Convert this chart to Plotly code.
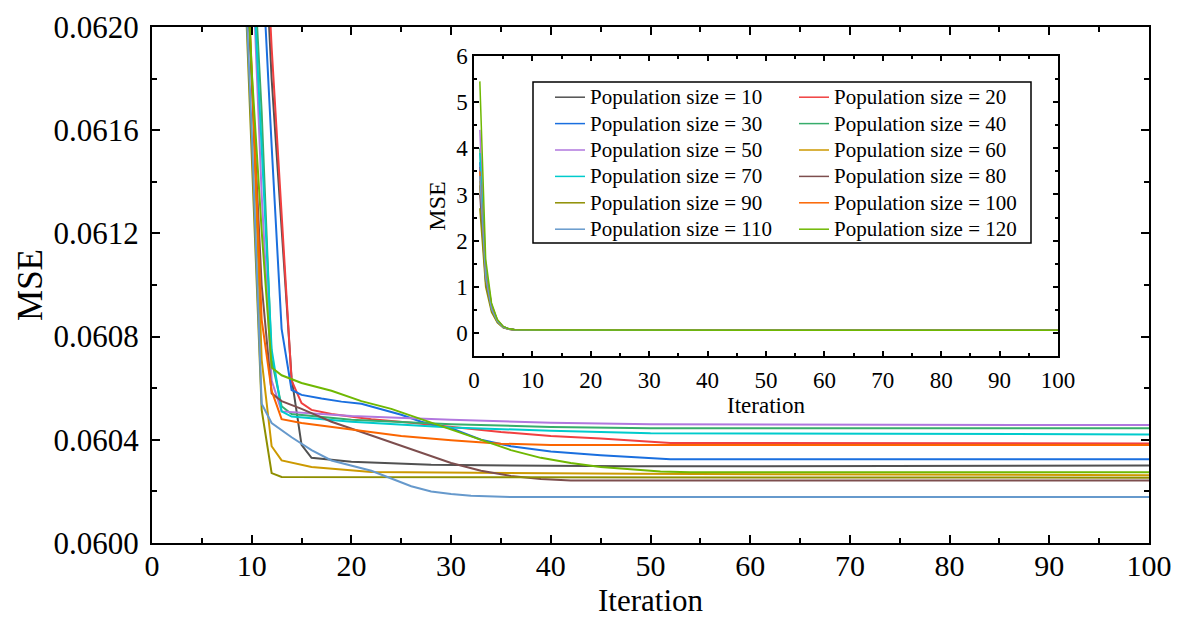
import plotly.graph_objects as go

FONT = "Liberation Serif, Times New Roman, serif"

# ---------------- data (iteration, MSE) ----------------
iters_10 = [1, 2, 3, 4, 5, 6, 7, 8, 9, 10, 11, 12, 13, 14, 15, 16, 20, 28, 48, 100]
mse_10 = [3.2, 1.2, 0.55, 0.26, 0.13, 0.085, 0.069, 0.0655, 0.0640, 0.0632, 0.0626, 0.0618,
          0.06122, 0.06064, 0.06038, 0.06033, 0.060315, 0.060303, 0.060297, 0.060300]

iters_20 = [1, 2, 3, 4, 5, 6, 7, 8, 9, 10, 11, 12, 13, 14, 15, 16, 18, 22, 26, 30, 35, 40, 45, 52, 100]
mse_20 = [3.6, 1.35, 0.6, 0.28, 0.14, 0.088, 0.070, 0.066, 0.0643, 0.0634, 0.0627, 0.06192,
          0.06125, 0.06063, 0.060542, 0.060516, 0.0605, 0.06048, 0.060466, 0.06045, 0.06043,
          0.060415, 0.060405, 0.060388, 0.060386]

iters_30 = [1, 2, 3, 4, 5, 6, 7, 8, 9, 10, 11, 12, 13, 14, 15, 17, 19, 21, 23, 25, 27, 30, 33, 36,
            40, 45, 52, 100]
mse_30 = [3.7, 1.3, 0.58, 0.27, 0.135, 0.086, 0.069, 0.0652, 0.0637, 0.0630, 0.0623, 0.06154,
          0.06083, 0.060593, 0.060574, 0.06056, 0.060548, 0.06054, 0.06052, 0.060497, 0.06047,
          0.060445, 0.06040, 0.060375, 0.060355, 0.06034, 0.060325, 0.060325]

iters_40 = [1, 2, 3, 4, 5, 6, 7, 8, 9, 10, 11, 12, 13, 14, 20, 30, 40, 50, 100]
mse_40 = [4.0, 1.4, 0.6, 0.27, 0.13, 0.084, 0.068, 0.0648, 0.0632, 0.0624, 0.06167, 0.06071,
          0.06053, 0.0605, 0.060478, 0.06046, 0.06045, 0.060445, 0.060445]

iters_50 = [1, 2, 3, 4, 5, 6, 7, 8, 9, 10, 11, 12, 13, 20, 30, 40, 50, 100]
mse_50 = [4.4, 1.45, 0.62, 0.28, 0.135, 0.085, 0.068, 0.0647, 0.0631, 0.06232, 0.06135, 0.06063,
          0.06051, 0.060492, 0.060478, 0.060466, 0.06046, 0.060457]

iters_60 = [1, 2, 3, 4, 5, 6, 7, 8, 9, 10, 11, 12, 13, 16, 22, 48, 100]
mse_60 = [3.3, 1.15, 0.5, 0.24, 0.12, 0.08, 0.067, 0.064, 0.0627, 0.06181, 0.06071, 0.060375,
          0.06032, 0.060295, 0.060275, 0.060268, 0.060263]

iters_70 = [1, 2, 3, 4, 5, 6, 7, 8, 9, 10, 11, 12, 13, 14, 20, 30, 40, 50, 100]
mse_70 = [3.9, 1.35, 0.58, 0.27, 0.13, 0.084, 0.068, 0.0647, 0.0631, 0.0623, 0.0615, 0.06075,
          0.06051, 0.06049, 0.06047, 0.060448, 0.060435, 0.060425, 0.060421]

iters_80 = [1, 2, 3, 4, 5, 6, 7, 8, 9, 10, 11, 12, 13, 15, 18, 21, 24, 27, 30, 33, 36, 39, 42, 100]
mse_80 = [3.0, 1.1, 0.5, 0.24, 0.12, 0.08, 0.067, 0.064, 0.0626, 0.0618, 0.0610, 0.06058,
          0.06055, 0.06052, 0.06047, 0.06043, 0.06039, 0.06035, 0.06031, 0.06028, 0.06026,
          0.060248, 0.060242, 0.060242]

iters_90 = [1, 2, 3, 4, 5, 6, 7, 8, 9, 10, 11, 12, 13, 100]
mse_90 = [2.7, 1.0, 0.45, 0.22, 0.11, 0.078, 0.066, 0.0638, 0.0625, 0.0615, 0.060516, 0.060271,
          0.060256, 0.060253]

iters_100 = [1, 2, 3, 4, 5, 6, 7, 8, 9, 10, 11, 12, 13, 15, 20, 25, 30, 35, 40, 100]
mse_100 = [3.5, 1.25, 0.55, 0.26, 0.125, 0.082, 0.067, 0.0642, 0.0628, 0.06185, 0.060865, 0.06059,
           0.06048, 0.060465, 0.06044, 0.060415, 0.060398, 0.060385, 0.06038, 0.06038]

iters_110 = [1, 2, 3, 4, 5, 6, 7, 8, 9, 10, 11, 12, 14, 16, 18, 20, 22, 24, 26, 28, 30, 32, 34, 36, 100]
mse_110 = [3.4, 1.2, 0.52, 0.25, 0.12, 0.08, 0.066, 0.0637, 0.0625, 0.0616, 0.06054, 0.060465,
           0.06041, 0.06036, 0.06032, 0.0603, 0.06028, 0.06025, 0.06022, 0.0602, 0.06019,
           0.060183, 0.06018, 0.060178, 0.060178]

iters_120 = [1, 2, 3, 4, 5, 6, 7, 8, 9, 10, 11, 12, 13, 15, 18, 21, 24, 27, 30, 33, 36, 39, 42, 45,
             48, 51, 54, 100]
mse_120 = [5.45, 1.6, 0.65, 0.29, 0.14, 0.088, 0.069, 0.0645, 0.0627, 0.06183, 0.06121, 0.06068,
           0.06065, 0.06062, 0.06059, 0.06055, 0.06052, 0.06048, 0.06044, 0.0604, 0.06036,
           0.06033, 0.06031, 0.060295, 0.060285, 0.060277, 0.060274, 0.060274]

sizes = [10, 20, 30, 40, 50, 60, 70, 80, 90, 100, 110, 120]
series_iters = [iters_10, iters_20, iters_30, iters_40, iters_50, iters_60,
                iters_70, iters_80, iters_90, iters_100, iters_110, iters_120]
series_mse = [mse_10, mse_20, mse_30, mse_40, mse_50, mse_60,
              mse_70, mse_80, mse_90, mse_100, mse_110, mse_120]
colors = ["#515151", "#F14040", "#1A6FDF", "#37AD6B", "#B177DE", "#CC9900",
          "#00CBCC", "#7D4E4E", "#8E8E00", "#FB6501", "#6699CC", "#6FB802"]

main_xticks = [0, 10, 20, 30, 40, 50, 60, 70, 80, 90, 100]
main_yticks = [0.0600, 0.0604, 0.0608, 0.0612, 0.0616, 0.0620]
inset_yticks = [0, 1, 2, 3, 4, 5, 6]

fig = go.Figure()

for n, xs, ys, c in zip(sizes, series_iters, series_mse, colors):
    fig.add_trace(go.Scatter(x=xs, y=ys, mode="lines", line=dict(color=c, width=2),
                             xaxis="x", yaxis="y", showlegend=False, hoverinfo="skip"))

for i, (n, xs, ys, c) in enumerate(zip(sizes, series_iters, series_mse, colors)):
    fig.add_trace(go.Scatter(x=xs, y=ys, mode="lines", line=dict(color=c, width=1.5),
                             xaxis="x2", yaxis="y2",
                             name=f'<span style="font-size:21px">Population size = {n}</span>',
                             showlegend=True, legend="legend" if i % 2 == 0 else "legend2"))

axis_common = dict(showline=True, linecolor="black", mirror="ticks", ticks="inside",
                   tickcolor="black", showgrid=False, zeroline=False, automargin=False)

L, R, T, B = 152, 30, 27, 77
W, H = 1179, 620
pw, ph = W - L - R, H - T - B


def px_x(p):
    return (p - L) / pw


def px_y(p):
    return (H - B - p) / ph


legend_common = dict(xanchor="left", yanchor="top", bgcolor="rgba(0,0,0,0)", borderwidth=0,
                     font=dict(family=FONT, size=18, color="black"), tracegroupgap=0,
                     orientation="v")

fig.update_layout(
    width=W, height=H,
    margin=dict(l=L, r=R, t=T, b=B, autoexpand=False),
    plot_bgcolor="white", paper_bgcolor="white",
    font=dict(family=FONT, color="black"),
    xaxis=dict(domain=[0, 1], range=[0, 100], tickvals=main_xticks, linewidth=2, tickwidth=2,
               ticklen=8, minor=dict(dtick=5, ticklen=5, tickwidth=2, ticks="inside", tickcolor="black"),
               tickfont=dict(family=FONT, size=30), ticklabelstandoff=-5,
               **axis_common),
    yaxis=dict(domain=[0, 1], range=[0.0600, 0.0620], tickvals=main_yticks, tickformat=".4f",
               linewidth=2, tickwidth=2, ticklen=8, ticklabelstandoff=5,
               minor=dict(dtick=0.0002, ticklen=5, tickwidth=2, ticks="inside", tickcolor="black"),
               tickfont=dict(family=FONT, size=31),
               title=dict(text="MSE", font=dict(family=FONT, size=35), standoff=0),
               **axis_common),
    xaxis2=dict(domain=[px_x(474), px_x(1058)], anchor="y2", range=[0, 100], dtick=10,
                linewidth=1.5, tickwidth=1.5, ticklen=5,
                minor=dict(dtick=5, ticklen=3, tickwidth=1.5, ticks="inside", tickcolor="black"),
                tickfont=dict(family=FONT, size=23), ticklabelstandoff=3,
                title=dict(text="Iteration", font=dict(family=FONT, size=23), standoff=0),
                **axis_common),
    yaxis2=dict(domain=[px_y(356), px_y(56)], anchor="x2", range=[-0.5, 6], tickvals=inset_yticks,
                linewidth=1.5, tickwidth=1.5, ticklen=5,
                minor=dict(dtick=0.5, ticklen=3, tickwidth=1.5, ticks="inside", tickcolor="black"),
                tickfont=dict(family=FONT, size=23),
                title=dict(text="MSE", font=dict(family=FONT, size=24), standoff=4),
                **axis_common),
    legend=dict(x=px_x(550), y=px_y(79), **legend_common),
    legend2=dict(x=px_x(794), y=px_y(79), **legend_common),
    shapes=[dict(type="rect", xref="paper", yref="paper", x0=px_x(533), x1=px_x(1031),
                 y0=px_y(243), y1=px_y(82), line=dict(color="black", width=1.5),
                 fillcolor="rgba(0,0,0,0)", layer="above")],
    annotations=[dict(text="Iteration", xref="paper", yref="paper", x=0.5, y=px_y(620),
                      xanchor="center", yanchor="bottom", showarrow=False,
                      font=dict(family=FONT, size=31, color="black"))],
)

fig.write_html("out.html")
